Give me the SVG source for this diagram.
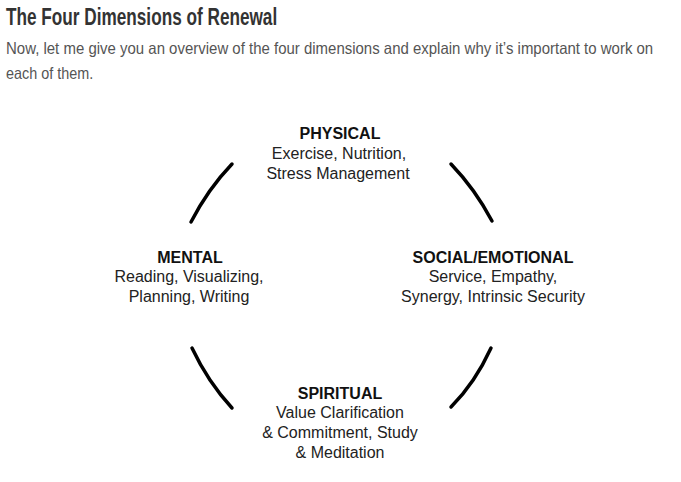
<svg xmlns="http://www.w3.org/2000/svg" width="681" height="482" viewBox="0 0 681 482">
<style>
.title{font-family:"Liberation Sans",Arial,sans-serif;font-weight:bold;font-size:24px;fill:#333}
.body{font-family:"Liberation Sans",Arial,sans-serif;font-size:16.5px;fill:#555}
.hd{font-family:"Liberation Sans",Arial,sans-serif;font-weight:bold;font-size:16px;fill:#111;text-anchor:middle}
.tx{font-family:"Liberation Sans",Arial,sans-serif;font-size:16px;fill:#222;text-anchor:middle}
.arc{fill:none;stroke:#000;stroke-width:3.5;stroke-linecap:round}
</style>
<rect width="681" height="482" fill="#fff"/>
<g transform="translate(6,0) scale(0.8,1)">
<text class="title" x="0" y="25" textLength="339" lengthAdjust="spacingAndGlyphs">The Four Dimensions of Renewal</text>
<text class="body" x="0" y="54" textLength="809" lengthAdjust="spacingAndGlyphs">Now, let me give you an overview of the four dimensions and explain why it’s important to work on</text>
<text class="body" x="0" y="79" textLength="109" lengthAdjust="spacingAndGlyphs">each of them.</text>
</g>
<g id="connectors">
<path class="arc" d="M191,222 Q208,189 232,164"/>
<path class="arc" d="M451,164 Q475,189 492,221"/>
<path class="arc" d="M192,348 Q208,382 232,408"/>
<path class="arc" d="M491,348 Q475,383 451,407"/>
</g>
<g id="physical">
<text class="hd" x="340" y="139">PHYSICAL</text>
<text class="tx" x="339" y="159">Exercise, Nutrition,</text>
<text class="tx" x="338" y="179">Stress Management</text>
</g>
<g id="mental">
<text class="hd" x="190" y="263">MENTAL</text>
<text class="tx" x="189" y="282">Reading, Visualizing,</text>
<text class="tx" x="189" y="302">Planning, Writing</text>
</g>
<g id="social">
<text class="hd" x="493" y="263">SOCIAL/EMOTIONAL</text>
<text class="tx" x="493" y="282">Service, Empathy,</text>
<text class="tx" x="493" y="302">Synergy, Intrinsic Security</text>
</g>
<g id="spiritual">
<text class="hd" x="340" y="399">SPIRITUAL</text>
<text class="tx" x="340" y="418">Value Clarification</text>
<text class="tx" x="340" y="438">&amp; Commitment, Study</text>
<text class="tx" x="340" y="458">&amp; Meditation</text>
</g>
</svg>
